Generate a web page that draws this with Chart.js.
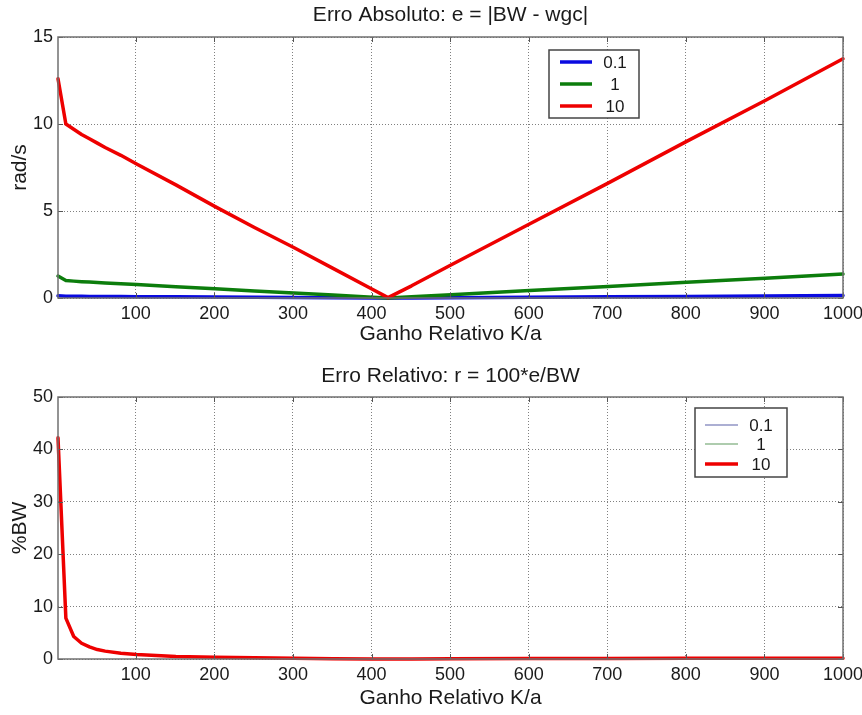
<!DOCTYPE html>
<html><head><meta charset="utf-8">
<script src="https://cdn.jsdelivr.net/npm/chart.js@4.4.1/dist/chart.umd.min.js"></script>
<style>
html,body{margin:0;padding:0;background:#fff;width:862px;height:715px;overflow:hidden;}
canvas{position:absolute;left:0;}
#c1{top:0;}
#c2{top:355px;}
</style></head><body>
<canvas id="c1" width="862" height="355"></canvas>
<canvas id="c2" width="862" height="360"></canvas>
<script>
// ---- data ----
const kA = [1, 11, 21, 31, 41, 51, 61, 81, 101, 151, 201, 251, 301, 351, 401, 421, 451, 501, 601, 701, 801, 901, 1000];
const absErr01 = [0.126, 0.100, 0.097, 0.094, 0.092, 0.089, 0.087, 0.082, 0.077, 0.065, 0.053, 0.041, 0.029, 0.017, 0.005, 0.000, 0.007, 0.019, 0.043, 0.066, 0.090, 0.114, 0.138];
const absErr1  = [1.26, 1.00, 0.97, 0.94, 0.915, 0.89, 0.865, 0.82, 0.77, 0.65, 0.525, 0.405, 0.29, 0.17, 0.05, 0.00, 0.07, 0.19, 0.425, 0.66, 0.90, 1.135, 1.375];
const absErr10 = [12.6, 10.0, 9.7, 9.4, 9.15, 8.9, 8.65, 8.2, 7.7, 6.5, 5.25, 4.05, 2.9, 1.7, 0.5, 0.02, 0.7, 1.9, 4.25, 6.6, 9.0, 11.35, 13.75];
const relErr01 = [42.2, 7.8, 4.3, 3.0, 2.3, 1.8, 1.5, 1.1, 0.85, 0.5, 0.35, 0.22, 0.13, 0.07, 0.02, 0.0, 0.02, 0.05, 0.09, 0.11, 0.13, 0.15, 0.16];
const relErr1  = [42.2, 7.8, 4.3, 3.0, 2.3, 1.8, 1.5, 1.1, 0.85, 0.5, 0.35, 0.22, 0.13, 0.07, 0.02, 0.0, 0.02, 0.05, 0.09, 0.11, 0.13, 0.15, 0.16];
const relErr10 = [42.2, 7.8, 4.3, 3.0, 2.3, 1.8, 1.5, 1.1, 0.85, 0.5, 0.35, 0.22, 0.13, 0.07, 0.02, 0.0, 0.02, 0.05, 0.09, 0.11, 0.13, 0.15, 0.16];
const seriesLabels = ['0.1', '1', '10'];
const xTickValues = [100, 200, 300, 400, 500, 600, 700, 800, 900, 1000];
const absTickValues = [0, 5, 10, 15];
const relTickValues = [0, 10, 20, 30, 40, 50];

const FONT = '"Liberation Sans", Arial, Helvetica, sans-serif';
const TXT = '#1a1a1a';
Chart.defaults.font.family = FONT;
Chart.defaults.color = TXT;

function pts(ys) { return kA.map((x, i) => ({x: x, y: ys[i]})); }

const framePlugin = {
  id: 'frame',
  afterDraw(chart, args, opts) {
    const ctx = chart.ctx, a = chart.chartArea, sx = chart.scales.x, sy = chart.scales.y;
    ctx.save();
    // inward tick marks
    ctx.strokeStyle = '#555';
    ctx.lineWidth = 1;
    ctx.beginPath();
    const tl = 5;
    sx.ticks.forEach(t => {
      const p = Math.round(sx.getPixelForValue(t.value)) + 0.5;
      ctx.moveTo(p, a.bottom); ctx.lineTo(p, a.bottom - tl);
      ctx.moveTo(p, a.top); ctx.lineTo(p, a.top + tl);
    });
    sy.ticks.forEach(t => {
      const p = Math.round(sy.getPixelForValue(t.value)) + 0.5;
      ctx.moveTo(a.left, p); ctx.lineTo(a.left + tl, p);
      ctx.moveTo(a.right, p); ctx.lineTo(a.right - tl, p);
    });
    ctx.stroke();
    // box
    ctx.strokeStyle = '#707070';
    ctx.lineWidth = 1.5;
    ctx.strokeRect(a.left, a.top, a.right - a.left, a.bottom - a.top);
    // legend
    const L = opts.legend;
    if (L) {
      ctx.fillStyle = '#fff';
      ctx.fillRect(L.x, L.y, L.w, L.h);
      ctx.strokeStyle = '#444';
      ctx.lineWidth = 1.5;
      ctx.strokeRect(L.x, L.y, L.w, L.h);
      ctx.font = L.fontSize + 'px ' + FONT;
      ctx.textAlign = 'center';
      ctx.textBaseline = 'middle';
      L.labels.forEach((lab, i) => {
        ctx.strokeStyle = L.colors[i];
        ctx.lineWidth = L.widths[i];
        ctx.beginPath();
        ctx.moveTo(L.lineX1, L.rows[i]);
        ctx.lineTo(L.lineX2, L.rows[i]);
        ctx.stroke();
        ctx.fillStyle = TXT;
        ctx.fillText(lab, L.textX, L.rows[i] + 1);
      });
    }
    ctx.restore();
  }
};

function makeChart(id, c) {
  return new Chart(document.getElementById(id), {
    type: 'line',
    data: { datasets: c.datasets },
    options: {
      responsive: false,
      animation: false,
      events: [],
      layout: { padding: { left: 0, right: 19, top: 0, bottom: 0 } },
      elements: { point: { radius: 0 }, line: { tension: 0, borderCapStyle: 'round', borderJoinStyle: 'round' } },
      plugins: {
        legend: { display: false },
        tooltip: { enabled: false },
        title: {
          display: true, text: c.title, color: TXT, fullSize: false,
          font: { size: 21, weight: 'normal', lineHeight: '20px' },
          padding: c.titlePad
        },
        frame: { legend: c.legend }
      },
      scales: {
        x: {
          type: 'linear', min: 1, max: 1000,
          afterBuildTicks: s => { s.ticks = xTickValues.map(v => ({value: v})); },
          afterFit: s => { s.height = c.xHeight; s.paddingLeft = 0; s.paddingRight = 0; },
          ticks: { font: { size: 18 }, color: TXT, padding: 5, maxRotation: 0, autoSkip: false, callback: v => String(v) },
          grid: { color: '#808080', lineWidth: 1, drawTicks: false, borderDash: [1, 2] },
          border: { display: false, dash: [1, 2] },
          title: { display: true, text: 'Ganho Relativo K/a', color: TXT, font: { size: 21, lineHeight: '20px' }, padding: { top: 0, bottom: c.xTitlePadBottom } }
        },
        y: {
          type: 'linear', min: 0, max: c.yMax,
          afterBuildTicks: s => { s.ticks = c.yTicks.map(v => ({value: v})); },
          afterFit: s => { s.width = 58; s.paddingTop = 0; s.paddingBottom = 0; },
          ticks: { font: { size: 18 }, color: TXT, padding: 5, callback: v => String(v) },
          grid: { color: '#808080', lineWidth: 1, drawTicks: false, borderDash: [1, 2] },
          border: { display: false, dash: [1, 2] },
          title: { display: true, text: c.yTitle, color: TXT, font: { size: 21, lineHeight: '20px' }, padding: { top: 10, bottom: 0 } }
        }
      }
    },
    plugins: [framePlugin]
  });
}

const BLUE = '#0a0ae0', GREEN = '#0c7d0c', RED = '#ee0000';

makeChart('c1', {
  title: 'Erro Absoluto: e = |BW - wgc|',
  titlePad: { top: 5, bottom: 12 },
  yTitle: 'rad/s', yMax: 15, yTicks: absTickValues,
  xHeight: 57, xTitlePadBottom: 11,
  datasets: [
    { label: seriesLabels[0], data: pts(absErr01), borderColor: BLUE, borderWidth: 3.5, order: 3, clip: 4 },
    { label: seriesLabels[1], data: pts(absErr1), borderColor: GREEN, borderWidth: 3.5, order: 2, clip: 4 },
    { label: seriesLabels[2], data: pts(absErr10), borderColor: RED, borderWidth: 3.5, order: 1, clip: 4 }
  ],
  legend: { x: 549, y: 50, w: 90, h: 68, rows: [62, 84, 106], lineX1: 560, lineX2: 592, textX: 615,
            labels: seriesLabels, colors: [BLUE, GREEN, RED], widths: [3.5, 3.5, 3.5], fontSize: 17 }
});

makeChart('c2', {
  title: 'Erro Relativo: r = 100*e/BW',
  titlePad: { top: 11, bottom: 11 },
  yTitle: '%BW', yMax: 50, yTicks: relTickValues,
  xHeight: 56, xTitlePadBottom: 7,
  datasets: [
    { label: seriesLabels[0], data: pts(relErr01), borderColor: '#5a60a8', borderWidth: 1, order: 3, clip: 4 },
    { label: seriesLabels[1], data: pts(relErr1), borderColor: '#5f9a5f', borderWidth: 1, order: 2, clip: 4 },
    { label: seriesLabels[2], data: pts(relErr10), borderColor: RED, borderWidth: 3.5, order: 1, clip: 4 }
  ],
  legend: { x: 695, y: 53, w: 92, h: 69, rows: [70, 89, 109], lineX1: 705, lineX2: 738, textX: 761,
            labels: seriesLabels, colors: ['#5a60a8', '#5f9a5f', RED], widths: [1.2, 1.2, 3.5], fontSize: 17 }
});
</script>
</body></html>
